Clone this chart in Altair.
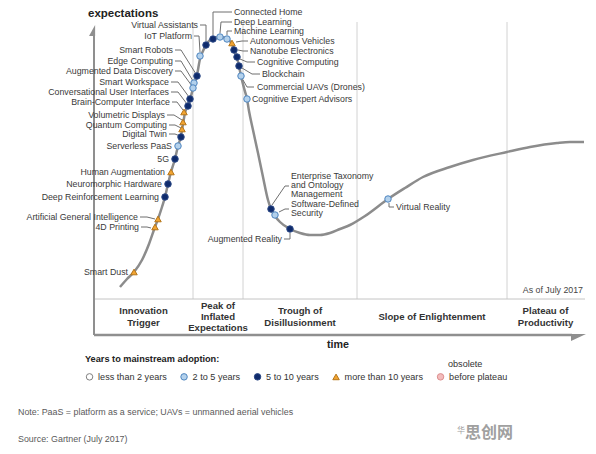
import altair as alt
import pandas as pd

# ---------------- data ----------------
tech_names = [
    "Virtual Assistants", "IoT Platform", "Smart Robots", "Edge Computing",
    "Augmented Data Discovery", "Smart Workspace", "Conversational User Interfaces",
    "Brain-Computer Interface", "Volumetric Displays", "Quantum Computing", "Digital Twin",
    "Serverless PaaS", "5G", "Human Augmentation", "Neuromorphic Hardware",
    "Deep Reinforcement Learning", "Artificial General Intelligence", "4D Printing", "Smart Dust",
    "Connected Home", "Deep Learning", "Machine Learning", "Autonomous Vehicles",
    "Nanotube Electronics", "Cognitive Computing", "Blockchain", "Commercial UAVs (Drones)",
    "Cognitive Expert Advisors", "Enterprise Taxonomy\nand Ontology\nManagement",
    "Software-Defined\nSecurity", "Augmented Reality", "Virtual Reality",
]
tech_adoption = [
    "5 to 10 years", "2 to 5 years", "5 to 10 years", "2 to 5 years",
    "2 to 5 years", "5 to 10 years", "5 to 10 years",
    "more than 10 years", "more than 10 years", "more than 10 years", "5 to 10 years",
    "2 to 5 years", "5 to 10 years", "more than 10 years", "5 to 10 years",
    "5 to 10 years", "more than 10 years", "more than 10 years", "more than 10 years",
    "5 to 10 years", "2 to 5 years", "2 to 5 years", "more than 10 years",
    "5 to 10 years", "5 to 10 years", "5 to 10 years", "2 to 5 years",
    "2 to 5 years", "5 to 10 years",
    "2 to 5 years", "5 to 10 years", "2 to 5 years",
]
# position on the hype curve (time, expectations)
tech_time = [112, 106, 103, 100, 99, 96, 94, 90, 89, 88, 87, 84, 81, 77, 74, 71, 64, 61, 40,
             119, 126, 133, 138, 140, 143, 145, 147, 153, 177, 181, 196, 294]
tech_expect = [254, 243, 223, 216, 211, 200, 193, 187, 177, 170, 162, 153, 140, 127, 115, 102, 80, 72, 27,
               260, 262, 260, 256, 249, 242, 233, 223, 200, 90, 84, 70, 100]
tech_side = ["left"] * 19 + ["right"] * 11 + ["left", "right"]

# annotation layout (label anchors = first text line, and leader lines)
label_time = [104, 98, 79, 79, 79, 75, 75, 76, 71, 73, 73, 78, 75, 71, 68, 65, 44, 45, 34,
              140, 140, 140, 156, 156, 163, 168, 163, 158, 197, 197, 188, 302]
label_expect = [274, 263, 249, 238, 228, 217, 207, 197, 184, 174, 165, 153, 140, 127, 115, 102, 82, 72, 27,
                287, 277, 268, 258, 248, 237, 225, 212, 200, 123, 95, 60, 92]
leader_time = [
    [106, 112, 112], [100, 105, 106], [81, 87, 102], [81, 87, 99], [81, 87, 98], [77, 84, 95],
    [77, 84, 93], [78, 83, 89], [73, 80, 88], [75, 81, 87], [75, 81, 86], [], [], [], [], [],
    [46, 53, 61], [47, 53, 57], [],
    [138, 119, 119], [138, 127, 126], [138, 133, 133], [142, 148, 154], [144, 149, 154],
    [146, 153, 161], [148, 158, 166], [149, 153, 160], [], [178, 191, 195], [185, 191, 195],
    [190, 196, 196], [295, 295, 300],
]
leader_expect = [
    [274, 274, 258], [263, 263, 247], [249, 249, 225], [238, 238, 218], [228, 228, 213], [217, 217, 202],
    [207, 207, 195], [197, 197, 189], [184, 184, 179], [174, 174, 171], [165, 165, 163], [], [], [], [], [],
    [82, 82, 80], [72, 72, 71], [],
    [287, 287, 264], [277, 277, 266], [268, 268, 264], [257, 258, 258], [249, 248, 248],
    [240, 237, 237], [231, 225, 225], [219, 212, 212], [], [94, 113, 113], [87, 90, 90],
    [60, 60, 66], [96, 92, 92],
]

# hype cycle curve
curve_time = [26, 33, 40, 48, 55, 61, 64, 68, 71, 74, 77, 81, 84, 87, 89, 91, 94, 97, 100, 103,
              106, 109, 112, 116, 120, 124, 128, 133, 138, 140, 143, 145, 147, 150, 153, 155, 159, 164, 169, 174,
              177, 181, 186, 196, 206, 216, 226, 236, 246, 256, 271, 294, 311, 329, 356, 379, 413, 436, 463, 476,
              490]
curve_expect = [12, 20, 27, 39, 55, 72, 80, 92, 102, 115, 127, 140, 153, 163, 175, 186, 194, 203, 214, 224,
                240, 248, 254, 259, 261, 262, 262, 260, 255, 249, 241, 233, 223, 211, 200, 188, 169, 146, 122, 99,
                90, 83, 77, 70, 66, 64, 64, 66, 70, 74, 83, 100, 111, 122, 132, 139, 147, 152, 156, 157,
                157]

phase_names = ["Innovation\nTrigger", "Peak of\nInflated\nExpectations", "Trough of\nDisillusionment",
               "Slope of Enlightenment", "Plateau of\nProductivity"]
phase_start = [0, 99, 149, 263, 413]
phase_end = [99, 149, 263, 413, 490]

adoption_cats = ["less than 2 years", "2 to 5 years", "5 to 10 years", "more than 10 years",
                 "obsolete before plateau"]
adoption_fill = ["#ffffff", "#b3d1ec", "#0f2b6c", "#f2a431", "#f3bcbc"]
adoption_stroke = ["#808080", "#4f86c0", "#2a4785", "#b5761a", "#dc8f8f"]
adoption_shape = ["circle", "circle", "circle", "triangle-up", "circle"]
adoption_size = [42, 42, 42, 62, 42]

# ---------------- tables ----------------
tech_df = pd.DataFrame({
    "tech": tech_names, "adoption": tech_adoption, "t": tech_time, "e": tech_expect,
    "side": tech_side, "lt": label_time, "le": label_expect,
})
curve_df = pd.DataFrame({"t": curve_time, "e": curve_expect, "i": range(len(curve_time))})
leader_rows = []
for name, lts, les in zip(tech_names, leader_time, leader_expect):
    for k, (a, b) in enumerate(zip(lts, les)):
        leader_rows.append({"tech": name, "k": k, "t": a, "e": b})
leader_df = pd.DataFrame(leader_rows)
phase_df = pd.DataFrame({"phase": phase_names, "start": phase_start, "end": phase_end})
divider_df = pd.DataFrame({"t": phase_start[1:], "e0": 0, "e1": 277})

xs = alt.Scale(domain=[0, 490], nice=False, zero=False)
ys = alt.Scale(domain=[0, 277], nice=False, zero=False)
FONT = "Liberation Sans"


def X(f):
    return alt.X(f, type="quantitative", scale=xs, axis=None)


def Y(f):
    return alt.Y(f, type="quantitative", scale=ys, axis=None)


# frame lines
frame_base = pd.DataFrame({"t0": [0], "t1": [491], "e0": [0], "e1": [0]})
frame_bottom = pd.DataFrame({"t0": [0], "t1": [478], "e0": [-36], "e1": [-36]})
frame_y = pd.DataFrame({"t0": [0], "t1": [0], "e0": [-36], "e1": [264]})

dividers = alt.Chart(divider_df).mark_rule(color="#d2d2d2", strokeWidth=1).encode(
    x=X("t"), y=Y("e0"), y2="e1")
base_line = alt.Chart(frame_base).mark_rule(color="#c4c4c4", strokeWidth=1).encode(
    x=X("t0"), x2="t1", y=Y("e0"))
bottom_line = alt.Chart(frame_bottom).mark_rule(color="#8f8f8f", strokeWidth=2.5).encode(
    x=X("t0"), x2="t1", y=Y("e0"))
y_line = alt.Chart(frame_y).mark_rule(color="#8f8f8f", strokeWidth=2).encode(
    x=X("t0"), y=Y("e0"), y2="e1")

arrow_up = alt.Chart(pd.DataFrame({"t": [0], "e": [268.5]})).mark_point(
    shape="M0.2,-1 L0.2,1 L-0.9,1 Z", size=121, filled=True, color="#8f8f8f", opacity=1
).encode(x=X("t"), y=Y("e"))
arrow_right = alt.Chart(pd.DataFrame({"t": [484], "e": [-38.5]})).mark_point(
    shape="M-0.93,-0.47 L1.07,-0.47 L-0.93,0.47 Z", size=225, filled=True, color="#8f8f8f", opacity=1
).encode(x=X("t"), y=Y("e"))

curve = alt.Chart(curve_df).mark_line(color="#8c8c8c", strokeWidth=2.5, interpolate="monotone").encode(
    x=X("t"), y=Y("e"), order="i:Q")

leaders = alt.Chart(leader_df).mark_line(color="#6f6f6f", strokeWidth=1).encode(
    x=X("t"), y=Y("e"), detail="tech:N", order="k:Q")

legend = alt.Legend(
    title="Years to mainstream adoption:", orient="none", legendX=-9, legendY=333,
    direction="horizontal", padding=0,
    titleFont=FONT, titleFontSize=9.2, titleFontWeight="bold", titleColor="#222222", titlePadding=8,
    labelFont=FONT, labelFontSize=9.1, labelColor="#333333", labelOffset=4, columnPadding=11.5,
    symbolStrokeWidth=1, symbolOpacity=1,
    labelExpr="datum.label == 'obsolete before plateau' ? 'before plateau' : datum.label",
)
points = alt.Chart(tech_df).mark_point(filled=True, opacity=1, strokeWidth=1).encode(
    x=X("t"), y=Y("e"),
    fill=alt.Fill("adoption:N", scale=alt.Scale(domain=adoption_cats, range=adoption_fill), legend=legend),
    stroke=alt.Stroke("adoption:N", scale=alt.Scale(domain=adoption_cats, range=adoption_stroke), legend=legend),
    shape=alt.Shape("adoption:N", scale=alt.Scale(domain=adoption_cats, range=adoption_shape), legend=legend),
    size=alt.Size("adoption:N", scale=alt.Scale(domain=adoption_cats, range=adoption_size), legend=legend),
)

labels_left = alt.Chart(tech_df).transform_filter(alt.datum.side == "left").mark_text(
    align="right", baseline="middle", font=FONT, fontSize=8.8, color="#3a3a3a", lineBreak="\n", lineHeight=9
).encode(x=X("lt"), y=Y("le"), text="tech:N")
labels_right = alt.Chart(tech_df).transform_filter(alt.datum.side == "right").mark_text(
    align="left", baseline="middle", font=FONT, fontSize=8.8, color="#3a3a3a", lineBreak="\n", lineHeight=9
).encode(x=X("lt"), y=Y("le"), text="tech:N")

# phase names centred in their band, block centred vertically in the bottom strip
phases = alt.Chart(phase_df).transform_calculate(
    mid="(datum.start + datum.end) / 2",
    top="-18 + (length(split(datum.phase, '\\n')) - 1) * 5.6",
).mark_text(
    align="center", baseline="middle", font=FONT, fontSize=9.6, fontWeight="bold", color="#333333",
    lineBreak="\n", lineHeight=11.2
).encode(x=X("mid"), y=Y("top"), text="phase:N")


def note(txt, x, y, size, color, weight="normal", align="left", font=FONT):
    return alt.Chart(pd.DataFrame({"txt": [txt]})).mark_text(
        align=align, baseline="middle", font=font, fontSize=size, fontWeight=weight, color=color
    ).encode(x=alt.value(x), y=alt.value(y), text="txt:N")


annotations = [
    note("expectations", -6, -8, 11.5, "#222222", "bold"),
    note("time", 244, 323, 10.7, "#222222", "bold", "center"),
    note("As of July 2017", 489, 268, 8.8, "#444444", align="right"),
    note("obsolete", 354, 342, 9.1, "#333333"),
    note("Note: PaaS = platform as a service; UAVs = unmanned aerial vehicles", -76, 390, 8.9, "#5a5a5a"),
    note("Source: Gartner (July 2017)", -76, 417, 8.9, "#5a5a5a"),
    note("华", 363, 409, 8, "#a0a0a0", font="Noto Sans CJK SC"),
    note("思创网", 371, 411, 16, "#a0a0a0", "bold", font="Noto Sans CJK SC"),
]

chart = alt.layer(
    dividers, base_line, bottom_line, y_line, arrow_up, arrow_right,
    curve, leaders, points, labels_left, labels_right, phases, *annotations
).properties(
    width=490, height=277,
    padding={"left": 86, "top": 14, "right": 4, "bottom": 147},
    autosize=alt.AutoSizeParams(type="none"),
    background="white",
).configure_view(stroke=None)

chart.save("out.html", embed_options={"renderer": "svg", "actions": False})
